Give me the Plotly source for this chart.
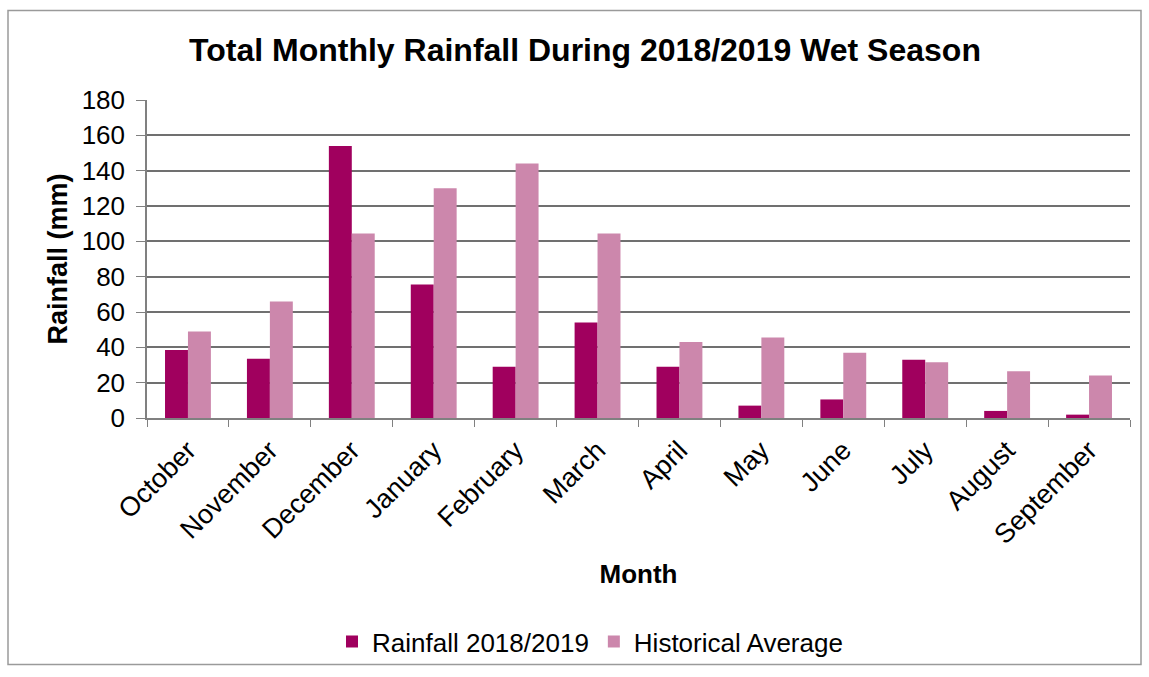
import plotly.graph_objects as go

months = ["October", "November", "December", "January", "February", "March",
          "April", "May", "June", "July", "August", "September"]
rainfall_2018_2019 = [38.5, 33.5, 154, 75.5, 29, 54, 29, 7, 10.5, 33, 4, 1.9]
historical_average = [49, 66, 104.5, 130, 144, 104.5, 43, 45.5, 37, 31.5, 26.5, 24]
y_ticks = [0, 20, 40, 60, 80, 100, 120, 140, 160, 180]

L, R, T, B = 147, 19, 100, 257
W, H = 1149, 677
pw, ph = W - L - R, H - T - B

fig = go.Figure()
fig.add_trace(go.Bar(x=months, y=rainfall_2018_2019, name="Rainfall 2018/2019",
                     marker=dict(color="#A0005E", line=dict(width=0))))
fig.add_trace(go.Bar(x=months, y=historical_average, name="Historical Average",
                     marker=dict(color="#CC87AC", line=dict(width=0))))

font_family = "Liberation Sans, Arial, sans-serif"
fig.update_layout(
    width=W, height=H,
    margin=dict(l=L, r=R, t=T, b=B),
    paper_bgcolor="white", plot_bgcolor="white",
    barmode="group", bargap=0.44, bargroupgap=0,
    font=dict(family=font_family, color="black"),
    title=dict(text="<b>Total Monthly Rainfall During 2018/2019 Wet Season</b>",
               x=585 / W, xanchor="center", y=1 - 50 / H, yanchor="middle",
               font=dict(size=32, family=font_family, color="black")),
    showlegend=True,
    legend=dict(orientation="h", x=(590 - L) / pw, xanchor="center",
                y=(420 - 645) / ph, yanchor="middle",
                bgcolor="rgba(0,0,0,0)",
                font=dict(size=26, family=font_family, color="black"),
                itemwidth=30, traceorder="normal"),
    xaxis=dict(tickangle=-45, tickfont=dict(size=27, family=font_family, color="black"),
               showline=True, linecolor="#808080", linewidth=1.5,
               ticks="outside", ticklen=7, tickcolor="#808080",
               tickson="boundaries", ticklabelstandoff=4,
               title=dict(text="<b>Month</b>", font=dict(size=26, family=font_family),
                          standoff=16)),
    yaxis=dict(range=[0, 180], tickvals=y_ticks,
               tickfont=dict(size=26, family=font_family, color="black"),
               showline=True, linecolor="#808080", linewidth=1.5,
               ticks="outside", ticklen=9, tickcolor="#808080",
               ticklabelstandoff=6,
               showgrid=True, gridcolor="#707070", gridwidth=1.8,
               zeroline=False,
               title=dict(text="<b>Rainfall (mm)</b>", font=dict(size=27, family=font_family),
                          standoff=6)),
    shapes=[dict(type="rect", xref="paper", yref="paper",
                 x0=(8 - L) / pw, x1=(1141 - L) / pw,
                 y0=(420 - 668) / ph, y1=(420 - 10) / ph,
                 line=dict(color="#9a9a9a", width=1.5), fillcolor="rgba(0,0,0,0)",
                 layer="below")],
)

fig.write_html("out.html")
